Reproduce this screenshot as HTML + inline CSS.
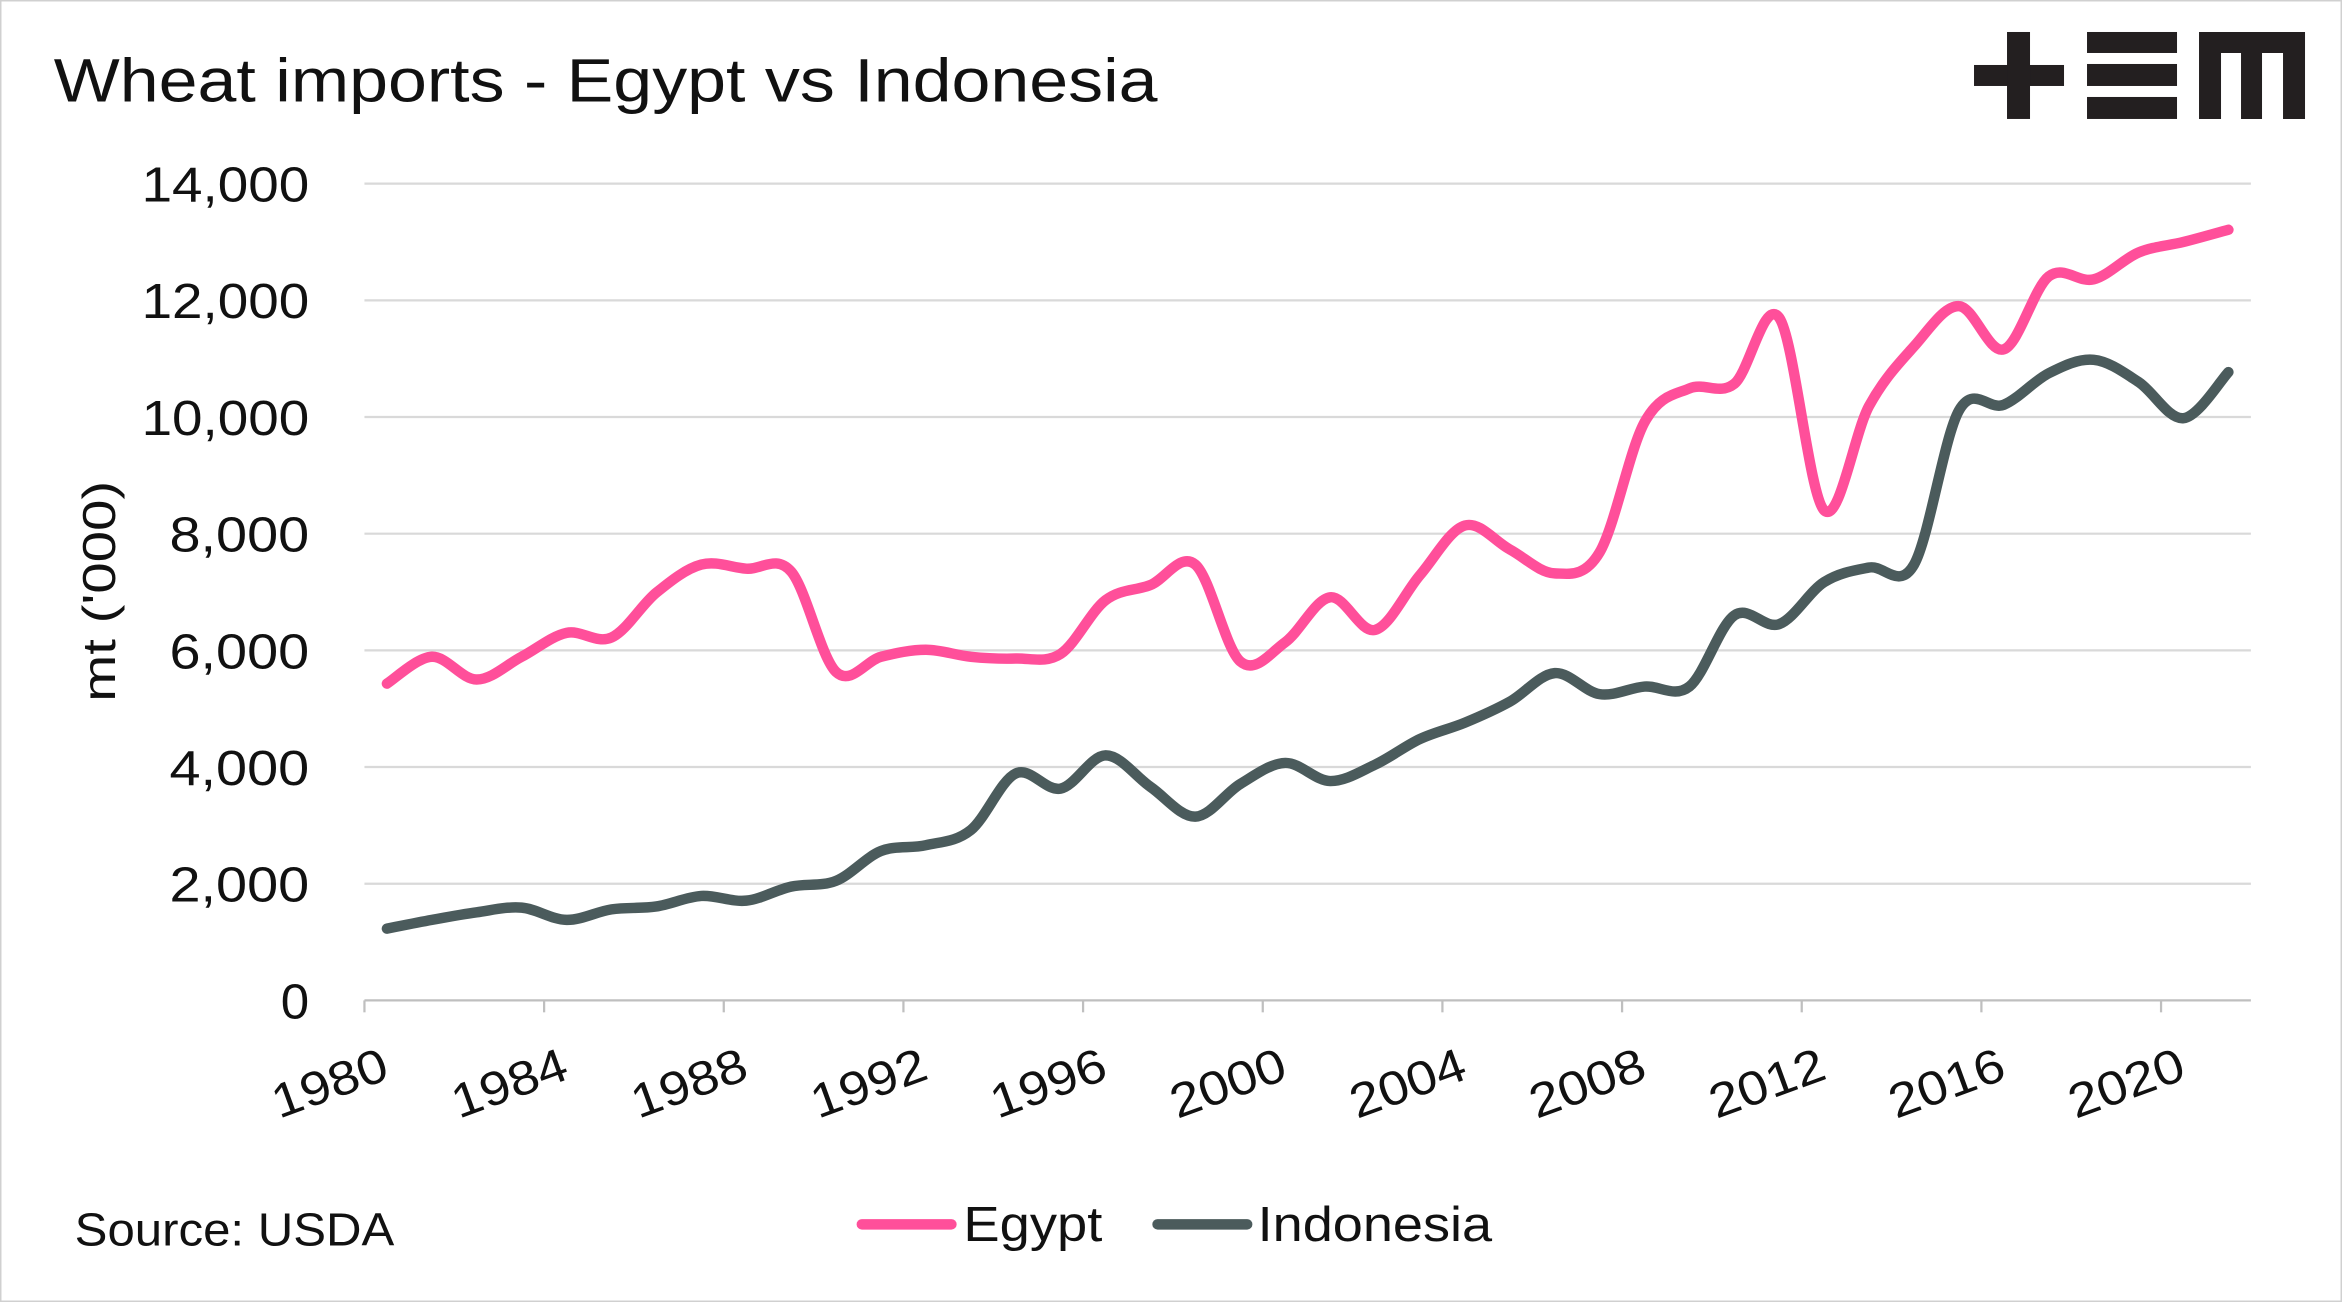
<!DOCTYPE html>
<html><head><meta charset="utf-8"><style>
html,body{margin:0;padding:0;background:#fff;}
svg{display:block;}
text{font-family:"Liberation Sans",sans-serif;fill:#111;}
</style></head><body>
<svg id="chart" width="2342" height="1302" viewBox="0 0 1568 872" preserveAspectRatio="none">
<rect x="0.5" y="0.5" width="1567" height="871" fill="#fff" stroke="#d0d0d0"/>
<text x="36" y="68" font-size="41" textLength="739" lengthAdjust="spacingAndGlyphs">Wheat imports - Egypt vs Indonesia</text>
<g transform="scale(0.66952)" fill="#231f20">
<rect x="1974" y="65" width="90" height="21"/><rect x="2007" y="32" width="23" height="87"/>
<rect x="2087" y="32" width="90" height="21"/><rect x="2087" y="64" width="90" height="22"/><rect x="2087" y="97" width="90" height="22"/>
<path d="M2199 32H2305V119H2283V53H2262V119H2241V53H2221V119H2199Z"/>
</g>
<g id="grid"></g><g id="series"></g>
<text transform="translate(77,396) rotate(-90)" font-size="31" text-anchor="middle" textLength="148" lengthAdjust="spacingAndGlyphs">mt ('000)</text>
<text x="50" y="834" font-size="31" textLength="214" lengthAdjust="spacingAndGlyphs">Source: USDA</text>
<g>
<line x1="577" y1="820" x2="637" y2="820" stroke="#ff4f9a" stroke-width="7" stroke-linecap="round"/>
<text x="645" y="831" font-size="33" textLength="93" lengthAdjust="spacingAndGlyphs">Egypt</text>
<line x1="775" y1="820" x2="835" y2="820" stroke="#4b5b5c" stroke-width="7" stroke-linecap="round"/>
<text x="842" y="831" font-size="33" textLength="157" lengthAdjust="spacingAndGlyphs">Indonesia</text>
</g>
</svg>
<script>
const years=[1980,1981,1982,1983,1984,1985,1986,1987,1988,1989,1990,1991,1992,1993,1994,1995,1996,1997,1998,1999,2000,2001,2002,2003,2004,2005,2006,2007,2008,2009,2010,2011,2012,2013,2014,2015,2016,2017,2018,2019,2020,2021];
const egypt=[5430,5890,5500,5890,6300,6220,6990,7470,7400,7350,5630,5890,6010,5890,5860,5940,6860,7120,7470,5810,6140,6910,6350,7290,8140,7730,7320,7680,9910,10490,10570,11700,8400,10190,11210,11900,11160,12410,12360,12820,13000,13210];
const indonesia=[1230,1380,1510,1590,1380,1560,1610,1790,1710,1950,2050,2560,2660,2920,3890,3630,4200,3660,3150,3710,4070,3760,4040,4480,4760,5120,5610,5250,5380,5380,6600,6450,7170,7420,7470,10110,10210,10750,10980,10600,9980,10770];
const yTicks=[0,2000,4000,6000,8000,10000,12000,14000];
const xTicks=[1980,1984,1988,1992,1996,2000,2004,2008,2012,2016,2020];
const NS='http://www.w3.org/2000/svg';
const X0=244,X1=1507,Y0=670,Y1=123;
const xs=y=>X0+(y-1980)*(X1-X0)/42;
const ys=v=>Y0-v*(Y0-Y1)/14000;
function mk(t,a,p){const e=document.createElementNS(NS,t);for(const k in a)e.setAttribute(k,a[k]);p.appendChild(e);return e;}
const grid=document.getElementById('grid');
yTicks.forEach(v=>{
 const l=mk('line',{x1:X0,x2:X1,y1:ys(v),y2:ys(v),stroke:v===0?'#bfbfbf':'#d9d9d9','stroke-width':1.5},grid);
 
 
 const s=v.toLocaleString('en-US');
 const t=mk('text',{x:207,y:ys(v)+12,'font-size':33,'text-anchor':'end',textLength:s.length===1?19:s.length*18.7,lengthAdjust:'spacingAndGlyphs'},grid);
 t.textContent=s;
 
 
});
xTicks.forEach(y=>{
 const x=xs(y);
 const tk=mk('line',{x1:x,x2:x,y1:Y0,y2:Y0+8,stroke:'#bfbfbf','stroke-width':1.5},grid);
 
 
 const t=mk('text',{x:x+18,y:Y0+52,'font-size':32,'text-anchor':'end',textLength:80,lengthAdjust:'spacingAndGlyphs',transform:`rotate(-20 ${x+18} ${Y0+52})`},grid);
 t.textContent=y;
 
 
});
function path(vals){
 const p=vals.map((v,i)=>[xs(years[i]+0.5),ys(v)]);
 let d=`M${p[0][0]},${p[0][1]}`;
 for(let i=0;i<p.length-1;i++){
  const a=p[Math.max(i-1,0)],b=p[i],c=p[i+1],e=p[Math.min(i+2,p.length-1)];
  const k=1/6;
  d+=`C${b[0]+(c[0]-a[0])*k},${b[1]+(c[1]-a[1])*k} ${c[0]-(e[0]-b[0])*k},${c[1]-(e[1]-b[1])*k} ${c[0]},${c[1]}`;
 }
 return d;
}
const sg=document.getElementById('series');
const pi=mk('path',{d:path(indonesia),fill:'none',stroke:'#4b5b5c','stroke-width':7,'stroke-linejoin':'round','stroke-linecap':'round'},sg);


const pe=mk('path',{d:path(egypt),fill:'none',stroke:'#ff4f9a','stroke-width':7,'stroke-linejoin':'round','stroke-linecap':'round'},sg);


</script>
</body></html>
